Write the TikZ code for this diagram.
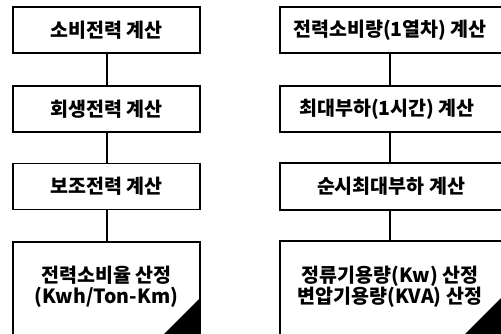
\documentclass[tikz,border=0pt]{standalone}
\usepackage{fontspec}
\setmainfont{Noto Sans CJK KR}
\begin{document}
\begin{tikzpicture}[x=1pt,y=-1pt,
  boxline/.style={draw=black,line width=1.1pt},
  conn/.style={draw=black,line width=2pt},
  lbl/.style={font=\fontsize{19.5}{21}\selectfont\bfseries,align=center,inner sep=0pt},
  corner/.style={fill=black}]
\useasboundingbox (0,0) rectangle (501,333);
\clip (0,0) rectangle (501,333);
% left column
\node[boxline,minimum width=187,minimum height=46,inner sep=0] (l1) at (106.5,30) {};
\node[boxline,minimum width=187,minimum height=46,inner sep=0] (l2) at (106.5,109) {};
\node[boxline,minimum width=187,minimum height=46,inner sep=0] (l3) at (106.5,186.5) {};
\coordinate (l4tl) at (13,242);
\coordinate (l4tr) at (200,242);
\draw[boxline] (13,345) -- (l4tl) -- (l4tr) -- (200,345);
\coordinate (l4top) at (106.5,242);
\fill[corner] (200,298) -- (200,345) -- (153,345) -- cycle;
\node[lbl] at (l1) {소비전력 계산};
\node[lbl] at (l2) {회생전력 계산};
\node[lbl] at (l3) {보조전력 계산};
\node[lbl] (l4) at (106.5,287) {전력소비율 산정\\(Kwh/Ton-Km)};
\draw[conn] (l1.south) -- (l2.north);
\draw[conn] (l2.south) -- (l3.north);
\draw[conn] (l3.south) -- (l4top);
% right column
\node[boxline,minimum width=230,minimum height=46,inner sep=0] (r1) at (395,30) {};
\node[boxline,minimum width=230,minimum height=46,inner sep=0] (r2) at (395,109) {};
\node[boxline,minimum width=230,minimum height=47,inner sep=0] (r3) at (395,186.5) {};
\coordinate (r4tl) at (280,241);
\coordinate (r4tr) at (510,241);
\draw[boxline] (280,345) -- (r4tl) -- (r4tr);
\coordinate (r4top) at (390,241);
\fill[corner] (501,298) -- (501,345) -- (454,345) -- cycle;
\node[lbl] at (390,30) {전력소비량(1열차) 계산};
\node[lbl] at (387,109) {최대부하(1시간) 계산};
\node[lbl] at (391,186.5) {순시최대부하 계산};
\node[lbl] (r4) at (390,287) {정류기용량(Kw) 산정\\변압기용량(KVA) 산정};
\draw[conn] (r1.south -| r4top) -- (r2.north -| r4top);
\draw[conn] (r2.south -| r4top) -- (r3.north -| r4top);
\draw[conn] (r3.south -| r4top) -- (r4top);
\end{tikzpicture}
\end{document}
